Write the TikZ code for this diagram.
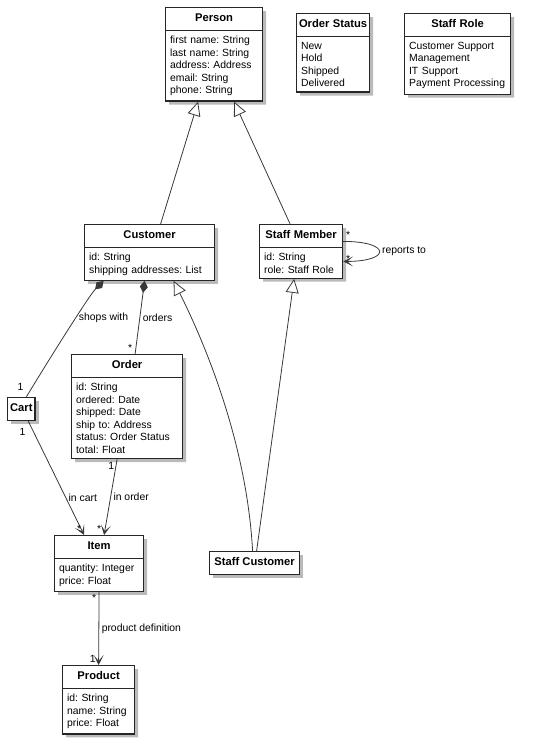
\documentclass[tikz,border=0pt]{standalone}
\usepackage{fontspec}
\setmainfont{Liberation Sans}
\usetikzlibrary{shapes.multipart,shadows,arrows.meta}
\definecolor{umlline}{HTML}{383838}
\frenchspacing
\newcommand{\clstitle}[1]{\noindent\makebox[\hsize]{\fontsize{11.2}{13}\selectfont\bfseries\rule[-4pt]{0pt}{13pt}#1}}
\tikzset{
    boxshadow/.style={drop shadow={shadow xshift=3.5pt,shadow yshift=-3.5pt,fill=black!45,opacity=0.6}},
    cls/.style={rectangle split, rectangle split parts=2, draw=black!85, line width=1.2pt, fill=white,
        anchor=north west, align=left, inner xsep=4.5pt, inner ysep=4.5pt, font=\fontsize{10.4}{12.6}\selectfont, boxshadow},
    clsbox/.style={rectangle, draw=black!85, line width=1.2pt, fill=white, anchor=north west,
        inner xsep=2.5pt, inner ysep=5pt, text height=9pt, text depth=4pt, font=\fontsize{11.2}{13}\selectfont\bfseries, boxshadow},
    link/.style={draw=umlline, line width=0.8pt},
    inherit/.style={link, -{Triangle[length=14pt,width=13pt,fill=white]}},
    assoc/.style={link, -{Stealth[length=10pt,width=10pt,inset=6pt]}},
    compose/.style={link, {Diamond[length=12pt,width=8pt]}-},
    lbl/.style={font=\fontsize{10.4}{12}\selectfont, inner sep=2.5pt},
}
\begin{document}
\begin{tikzpicture}[x=1pt,y=-1pt]
    \useasboundingbox (0,0) rectangle (538,746);
    % Classes
    \node[cls, text width=88pt] (person) at (165,7) {\clstitle{Person}\nodepart{two}first name: String\\last name: String\\address: Address\\email: String\\phone: String};
    \node[cls, text width=64pt] (status) at (296,13) {\clstitle{Order Status}\nodepart{two}New\\Hold\\Shipped\\Delivered};
    \node[cls, text width=97pt] (role) at (404,13) {\clstitle{Staff Role}\nodepart{two}Customer Support\\Management\\IT Support\\Payment Processing};
    \node[cls, text width=121pt] (customer) at (84,224) {\clstitle{Customer}\nodepart{two}id: String\\shipping addresses: List};
    \node[cls, text width=74pt] (staff) at (259,224) {\clstitle{Staff Member}\nodepart{two}id: String\\role: Staff Role};
    \node[cls, text width=102pt] (order) at (71,354) {\clstitle{Order}\nodepart{two}id: String\\ordered: Date\\shipped: Date\\ship to: Address\\status: Order Status\\total: Float};
    \node[clsbox] (cart) at (7,397) {Cart};
    \node[cls, text width=80pt] (item) at (54,535) {\clstitle{Item}\nodepart{two}quantity: Integer\\price: Float};
    \node[clsbox, minimum width=90pt] (staffcust) at (209,551) {Staff Customer};
    \node[cls, text width=63pt] (product) at (62,665) {\clstitle{Product}\nodepart{two}id: String\\name: String\\price: Float};
    % Generalizations
    \draw[inherit] ([xshift=11pt]customer.north) -- ([xshift=-16pt]person.south);
    \draw[inherit] ([xshift=-11pt]staff.north) -- ([xshift=20pt]person.south);
    \draw[inherit] ([xshift=-2pt]staffcust.north) .. controls +(-6,-110) and +(30,60) .. ([xshift=24pt]customer.south);
    \draw[inherit] ([xshift=2pt]staffcust.north) -- ([xshift=-7pt]staff.south);
    % Compositions
    \draw[compose] ([xshift=-46pt]customer.south) .. controls +(-15,15) and +(15,-25) .. ([xshift=5pt]cart.north)
        node[lbl, pos=0.38, right] (lshops) {shops with}
        node[lbl, pos=1, above left, yshift=4pt] (lshopsone) {1};
    \draw[compose] ([xshift=-5pt]customer.south) -- ([xshift=8pt]order.north)
        node[lbl, pos=0.5, right] (lorders) {orders}
        node[lbl, pos=1, above left] (lordersmany) {*};
    % Associations
    \draw[assoc] ([xshift=7pt]cart.south) -- ([xshift=-15pt]item.north)
        node[lbl, pos=0, below left, yshift=-4pt] (lcartone) {1}
        node[lbl, pos=0.67, right] (lincart) {in cart}
        node[lbl, pos=1, above left] (lcartmany) {*};
    \draw[assoc] ([xshift=-10pt]order.south) -- ([xshift=5pt]item.north)
        node[lbl, pos=0, below left] (lorderone) {1}
        node[lbl, pos=0.5, right] (linorder) {in order}
        node[lbl, pos=1, above left] (lordermany) {*};
    \draw[assoc] (item.south) -- (product.north)
        node[lbl, pos=0, below left] (litemmany) {*}
        node[lbl, pos=0.5, right] (lproddef) {product definition}
        node[lbl, pos=1, above left] (lprodone) {1};
    % Self association
    \draw[assoc] ([yshift=10pt]staff.east) .. controls +(48,0) and +(48,0) .. ([yshift=-10pt]staff.east)
        node[lbl, pos=0, above right] (lbossmany) {*}
        node[lbl, pos=0.5, right] (lreports) {reports to}
        node[lbl, pos=1, above right, yshift=-4pt] (lstaffmany) {*};
\end{tikzpicture}
\end{document}
